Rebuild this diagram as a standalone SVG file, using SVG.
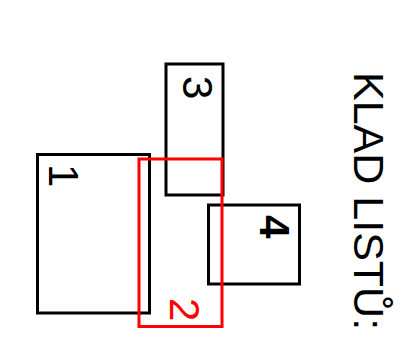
<svg xmlns="http://www.w3.org/2000/svg" width="402" height="359" viewBox="0 0 402 359">
<style>
.b{fill:none;stroke:#000;stroke-width:3}
.r{fill:none;stroke:#f00;stroke-width:3}
text{font-family:"Liberation Sans",Arial,sans-serif}
.n{font-size:42px}
</style>
<rect width="402" height="359" fill="#fff"/>
<g id="node1"><rect class="b" x="37.5" y="154.5" width="112" height="158.5"/><text class="n" transform="translate(49,164) rotate(90)">1</text></g>
<g id="node3"><rect class="b" x="166" y="64" width="57" height="131"/><text class="n" transform="translate(183,76) rotate(90)">3</text></g>
<g id="node4"><rect class="b" x="208.5" y="205" width="91" height="79"/><text class="n" font-weight="bold" transform="translate(260,215) rotate(90)">4</text></g>
<g id="node2"><rect class="r" x="139" y="159" width="83" height="167.5"/><text class="n" fill="#f00" transform="translate(169.5,298) rotate(90)">2</text></g>
<g id="connectors"/>
<text id="title" font-size="43" transform="translate(354,72) rotate(90)">KLAD LISTŮ:</text>
</svg>
